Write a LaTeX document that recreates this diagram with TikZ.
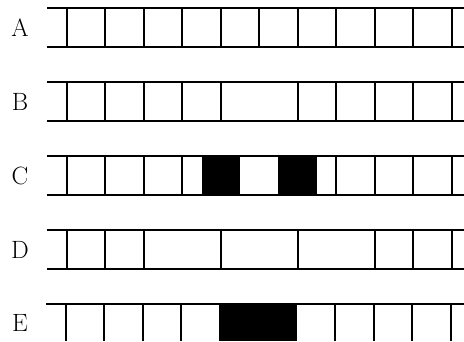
\documentclass[tikz,border=0pt]{standalone}
\usepackage{fontspec}
\usetikzlibrary{positioning}
\tikzset{
  rail/.style={line width=2pt},
  bar/.style={line width=1.8pt},
  blk/.style={fill=black},
  rowlbl/.style={font=\fontsize{25}{28}\selectfont,inner sep=0pt},
}
\begin{document}
\begin{tikzpicture}[x=1pt,y=-1pt]
  \useasboundingbox (0,0) rectangle (464,341);
  % row A: every bar
  \node[rowlbl] (lA) at (20,27.5) {A};
  \draw[rail] (47,8) -- (464,8) (47,46.5) -- (464,46.5);
  \foreach \k in {0,...,10} \draw[bar] (66.7+38.5*\k,8) -- ++(0,38.5);
  % row B: middle bar gone
  \node[rowlbl] (lB) at (20,101.5) {B};
  \draw[rail] (47,82) -- (464,82) (47,120.5) -- (464,120.5);
  \foreach \k in {0,1,2,3,4,6,7,8,9,10} \draw[bar] (66.7+38.5*\k,82) -- ++(0,38.5);
  % row C: two dark blocks
  \node[rowlbl] (lC) at (20,175.5) {C};
  \fill[blk] (201.5,156) rectangle (239.5,194.5);
  \fill[blk] (278,156) rectangle (316.5,194.5);
  \draw[rail] (47,156) -- (464,156) (47,194.5) -- (464,194.5);
  \foreach \k in {0,1,2,3,7,8,9,10} \draw[bar] (66.7+38.5*\k,156) -- ++(0,38.5);
  % row D: wide cells
  \node[rowlbl] (lD) at (20,249.5) {D};
  \draw[rail] (47,230) -- (464,230) (47,268.5) -- (464,268.5);
  \foreach \k in {0,1,2,4,6,8,9,10} \draw[bar] (66.7+38.5*\k,230) -- ++(0,38.5);
  % row E: one wide dark block
  \node[rowlbl] (lE) at (20,322.5) {E};
  \fill[blk] (219,303.5) rectangle (297,341);
  \draw[rail] (46,303.5) -- (464,303.5);
  \foreach \k in {0,1,2,3,7,8,9,10} \draw[bar] (65.7+38.5*\k,303.5) -- (65.7+38.5*\k,341);
\end{tikzpicture}
\end{document}
